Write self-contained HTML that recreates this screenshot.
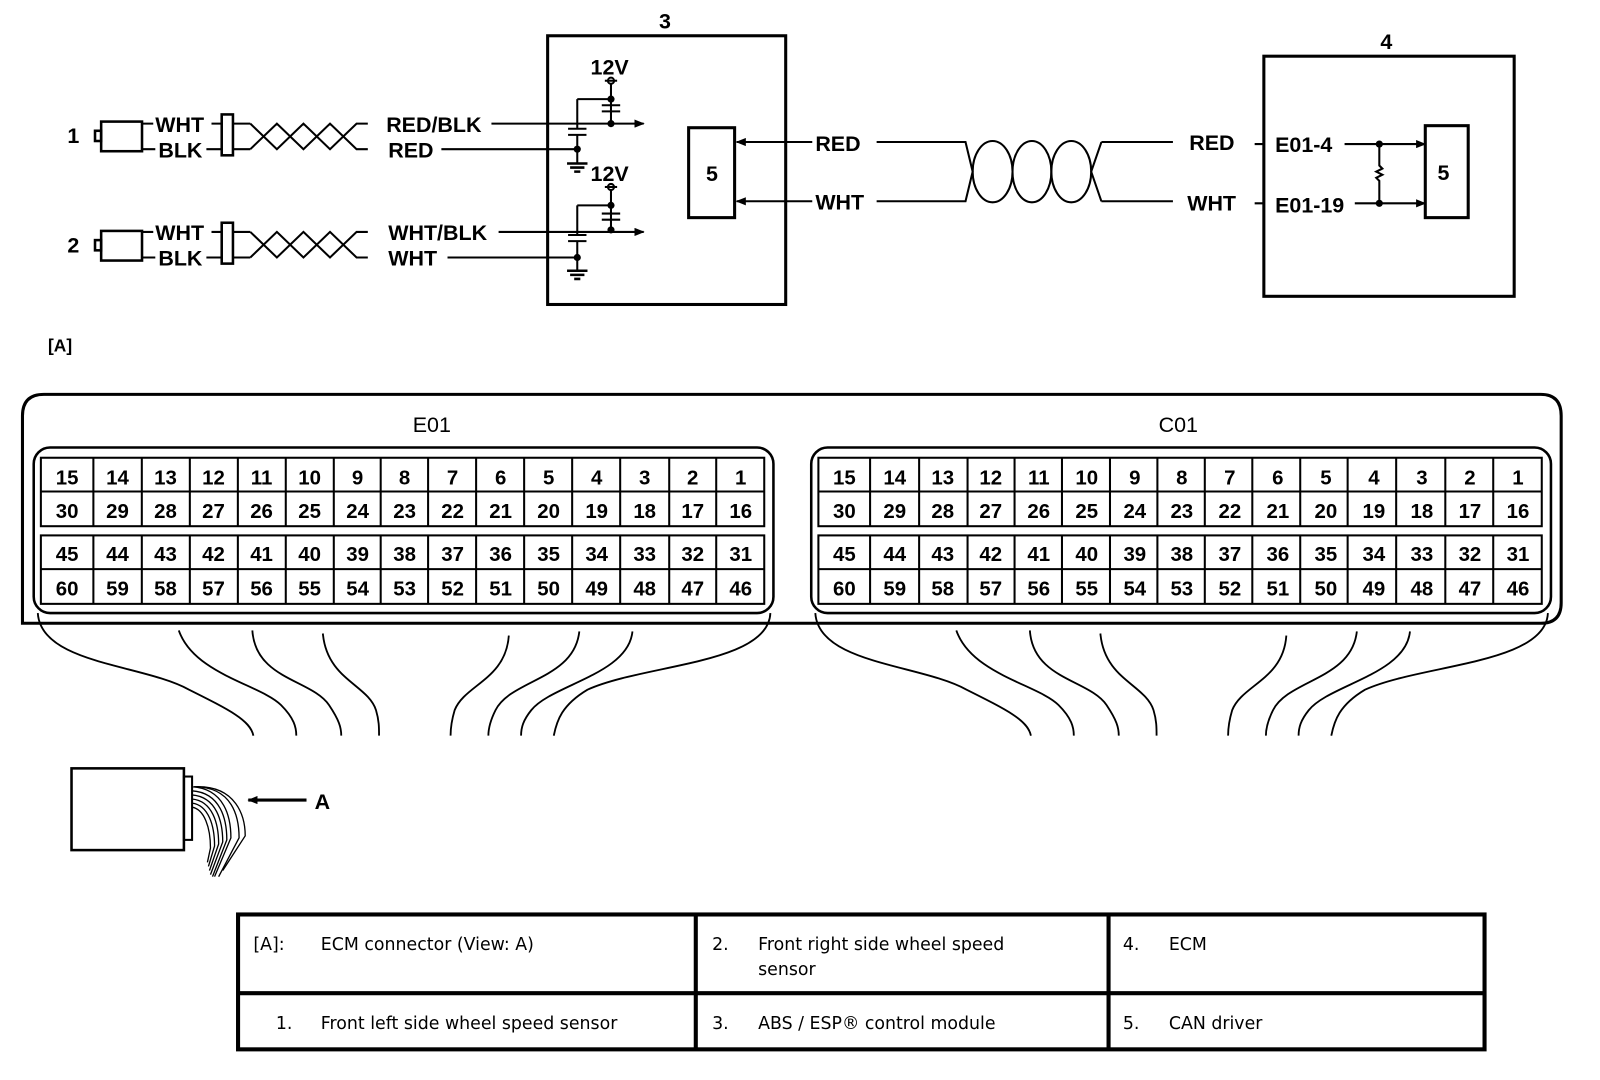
<!DOCTYPE html>
<html><head><meta charset="utf-8"><style>
html,body{margin:0;padding:0;background:#fff;}
svg{display:block;}
.d{font-family:"Liberation Sans",sans-serif;font-weight:bold;fill:#000;}
.t{font-family:"DejaVu Sans","Liberation Sans",sans-serif;font-size:17px;fill:#000;}
.n{font-family:"Liberation Sans",sans-serif;font-size:20px;font-weight:bold;text-anchor:middle;fill:#000;}
</style></head><body>
<svg width="1600" height="1080" viewBox="0 0 1566 1057" preserveAspectRatio="none" xmlns="http://www.w3.org/2000/svg">
<defs><marker id="ar" markerWidth="10" markerHeight="8" refX="9" refY="4" orient="auto" markerUnits="userSpaceOnUse"><path d="M0,0 L10,4 L0,8Z" fill="#000"/></marker></defs>
<g stroke="#000" fill="none" stroke-width="2">
<rect x="93" y="128" width="6" height="10" stroke-width="2.5"/>
<rect x="99" y="119" width="40" height="29" stroke-width="2.5"/>
<rect x="99" y="226" width="40" height="29" stroke-width="2.5"/>
<rect x="93" y="235" width="6" height="10" stroke-width="2.5"/>
<path d="M139,121H150 M139,146H152 M207,121H217 M202,146H217 M228,121H245 M228,146H245"/>
<path d="M139,227H150 M139,252H152 M207,227H217 M202,252H217 M228,227H245 M228,252H245"/>
<rect x="217" y="112" width="11" height="40" stroke-width="2.5"/>
<rect x="217" y="218" width="11" height="40" stroke-width="2.5"/>
<path d="M245,121 L271,146 L297,121 L323,146 L349,121 H360 M245,146 L271,121 L297,146 L323,121 L349,146 H360"/>
<path d="M245,227 L271,252 L297,227 L323,252 L349,227 H360 M245,252 L271,227 L297,252 L323,227 L349,252 H360"/>
<path d="M481,121 H630" marker-end="url(#ar)"/>
<path d="M432,146 H565"/>
<path d="M488,227 H630" marker-end="url(#ar)"/>
<path d="M438,252 H565"/>
<rect x="536" y="35" width="233" height="263" stroke-width="3"/>
<path d="M598,82 V121 M565,97 H598 M565,97 V126 M565,132 V160 M589,103 H607 M589,109 H607 M556,126 H574 M556,132 H574"/>
<path d="M555,160 H575 M558,164 H572 M562,168 H568" stroke-width="2.5"/>
<circle cx="598" cy="79" r="3" fill="#fff"/>
<path d="M592,79 H604"/>
<path d="M598,186 V225 M565,201 H598 M565,201 V230 M565,236 V265 M589,209 H607 M589,215 H607 M556,230 H574 M556,236 H574"/>
<path d="M555,265 H575 M558,269 H572 M562,273 H568" stroke-width="2.5"/>
<circle cx="598" cy="183" r="3" fill="#fff"/>
<path d="M592,183 H604"/>
<rect x="674" y="125" width="45" height="88" stroke-width="3"/>
<path d="M795,139 H721" marker-end="url(#ar)"/>
<path d="M795,197 H721" marker-end="url(#ar)"/>
<path d="M858,139 H945 L952,168 L945,197 H858 M1078,139 L1068,168 L1078,197 M1078,139 H1148 M1078,197 H1148"/>
<ellipse cx="971.5" cy="168" rx="19.5" ry="30"/>
<ellipse cx="1010" cy="168" rx="19" ry="30"/>
<ellipse cx="1048.5" cy="168" rx="19.5" ry="30"/>
<path d="M1228,141 H1238 M1228,199 H1238"/>
<rect x="1237" y="55" width="245" height="235" stroke-width="3"/>
<path d="M1316,141 H1395" marker-end="url(#ar)"/>
<path d="M1326,199 H1395" marker-end="url(#ar)"/>
<path d="M1350,141 V162 L1353,165 L1347,168 L1353,171 L1347,174 L1350,177 V199"/>
<rect x="1395" y="123" width="42" height="90" stroke-width="3"/>
</g>
<g fill="#000">
<circle cx="598" cy="97" r="3.5"/><circle cx="598" cy="121" r="3.5"/><circle cx="565" cy="146" r="3.5"/>
<circle cx="598" cy="201" r="3.5"/><circle cx="598" cy="225" r="3.5"/><circle cx="565" cy="252" r="3.5"/>
<circle cx="1350" cy="141" r="3.5"/><circle cx="1350" cy="199" r="3.5"/>
</g>
<g class="d" font-size="21">
<text x="66" y="140">1</text><text x="66" y="247">2</text>
<text x="152" y="129">WHT</text><text x="155" y="154">BLK</text>
<text x="152" y="235">WHT</text><text x="155" y="260">BLK</text>
<text x="378" y="129">RED/BLK</text><text x="380" y="154">RED</text>
<text x="380" y="235">WHT/BLK</text><text x="380" y="260">WHT</text>
<text x="578" y="73">12V</text><text x="578" y="177">12V</text>
<text x="645" y="28">3</text><text x="691" y="177">5</text>
<text x="798" y="148">RED</text><text x="798" y="205">WHT</text>
<text x="1164" y="147">RED</text><text x="1162" y="206">WHT</text>
<text x="1351" y="48">4</text>
<text x="1248" y="149">E01-4</text><text x="1248" y="208">E01-19</text>
<text x="1407" y="176">5</text>
<text x="47" y="344" font-size="17">[A]</text>
<text x="308" y="792">A</text>
<text x="404" y="423" font-weight="normal">E01</text>
<text x="1134" y="423" font-weight="normal">C01</text>
</g>
<g stroke="#000" fill="none">
<path d="M22,610 V407 Q22,386 43,386 H1508 Q1528,386 1528,407 V590 Q1528,610 1508,610 Z" stroke-width="3"/>
<rect x="33" y="438" width="724" height="162" rx="16" stroke-width="2.5"/>
<rect x="794" y="438" width="724" height="162" rx="16" stroke-width="2.5"/>
<g stroke-width="2">
<rect x="40" y="448" width="708" height="67"/><path d="M40,481H748"/>
<rect x="40" y="524" width="708" height="67"/><path d="M40,557H748"/>
<path d="M91.4,448V515 M138.8,448V515 M185.8,448V515 M232.8,448V515 M279.7,448V515 M326.7,448V515 M372.6,448V515 M419,448V515 M466,448V515 M513,448V515 M560,448V515 M607,448V515 M655,448V515 M701,448V515"/>
<path d="M91.4,524V591 M138.8,524V591 M185.8,524V591 M232.8,524V591 M279.7,524V591 M326.7,524V591 M372.6,524V591 M419,524V591 M466,524V591 M513,524V591 M560,524V591 M607,524V591 M655,524V591 M701,524V591"/>
<rect x="801" y="448" width="708" height="67"/><path d="M801,481H1509"/>
<rect x="801" y="524" width="708" height="67"/><path d="M801,557H1509"/>
<path d="M851.6,448V515 M899.6,448V515 M947,448V515 M993,448V515 M1039.4,448V515 M1086.4,448V515 M1132.8,448V515 M1179.2,448V515 M1225.7,448V515 M1272.6,448V515 M1319,448V515 M1366.5,448V515 M1414.6,448V515 M1461.5,448V515"/>
<path d="M851.6,524V591 M899.6,524V591 M947,524V591 M993,524V591 M1039.4,524V591 M1086.4,524V591 M1132.8,524V591 M1179.2,524V591 M1225.7,524V591 M1272.6,524V591 M1319,524V591 M1366.5,524V591 M1414.6,524V591 M1461.5,524V591"/>
</g>
<g stroke-width="1.8">
<path d="M37,600 C40,650 140,650 185,675 C225,695 245,705 248,720"/>
<path d="M175,617 C190,660 255,670 275,690 C288,703 290,712 290,720"/>
<path d="M247,617 C250,665 305,665 322,690 C332,705 334,712 334,720"/>
<path d="M316,620 C320,665 360,670 368,695 C371,705 371,712 371,720"/>
<path d="M498,622 C495,665 455,670 445,695 C442,705 441,712 441,720"/>
<path d="M567,618 C562,665 500,665 485,695 C480,705 478,712 478,720"/>
<path d="M619,618 C615,660 540,670 520,695 C512,705 510,712 510,720"/>
<path d="M754,600 C752,650 630,650 575,675 C550,690 545,705 542,720"/>
<path d="M798,600 C801,650 901,650 946,675 C986,695 1006,705 1009,720"/>
<path d="M936,617 C951,660 1016,670 1036,690 C1049,703 1051,712 1051,720"/>
<path d="M1008,617 C1011,665 1066,665 1083,690 C1093,705 1095,712 1095,720"/>
<path d="M1077,620 C1081,665 1121,670 1129,695 C1132,705 1132,712 1132,720"/>
<path d="M1259,622 C1256,665 1216,670 1206,695 C1203,705 1202,712 1202,720"/>
<path d="M1328,618 C1323,665 1261,665 1246,695 C1241,705 1239,712 1239,720"/>
<path d="M1380,618 C1376,660 1301,670 1281,695 C1273,705 1271,712 1271,720"/>
<path d="M1515,600 C1513,650 1391,650 1336,675 C1311,690 1306,705 1303,720"/>
</g>
<rect x="70" y="752" width="110" height="80" stroke-width="2.5"/>
<rect x="180" y="760" width="8" height="62" stroke-width="2"/>
<g stroke-width="1.3">
<path d="M188,770 C220,772 226,800 226,820 L210,858"/>
<path d="M188,774 C216,776 222,802 222,822 L208,858"/>
<path d="M188,778 C212,780 218,804 218,824 L206,856"/>
<path d="M188,782 C208,784 214,806 214,826 L205,852"/>
<path d="M188,786 C204,788 210,808 210,828 L204,848"/>
<path d="M188,790 C200,792 206,810 206,830 L203,844"/>
<path d="M190,770 C228,770 234,800 234,820 L214,858"/>
<path d="M190,770 C232,768 240,800 240,818 L218,852"/>
</g>
<path d="M300,783 H243" stroke-width="3" marker-end="url(#ar)"/>
<rect x="233" y="895" width="1220" height="132" stroke-width="4"/>
<path d="M233,972 H1453 M681,895 V1027 M1085,895 V1027" stroke-width="4"/>
</g>
<g class="n">
<text x="65.7" y="474">15</text><text x="115" y="474">14</text><text x="162" y="474">13</text><text x="209" y="474">12</text><text x="256" y="474">11</text><text x="303" y="474">10</text><text x="350" y="474">9</text><text x="396" y="474">8</text><text x="443" y="474">7</text><text x="490" y="474">6</text><text x="537" y="474">5</text><text x="584" y="474">4</text><text x="631" y="474">3</text><text x="678" y="474">2</text><text x="725" y="474">1</text>
<text x="65.7" y="507">30</text><text x="115" y="507">29</text><text x="162" y="507">28</text><text x="209" y="507">27</text><text x="256" y="507">26</text><text x="303" y="507">25</text><text x="350" y="507">24</text><text x="396" y="507">23</text><text x="443" y="507">22</text><text x="490" y="507">21</text><text x="537" y="507">20</text><text x="584" y="507">19</text><text x="631" y="507">18</text><text x="678" y="507">17</text><text x="725" y="507">16</text>
<text x="65.7" y="549">45</text><text x="115" y="549">44</text><text x="162" y="549">43</text><text x="209" y="549">42</text><text x="256" y="549">41</text><text x="303" y="549">40</text><text x="350" y="549">39</text><text x="396" y="549">38</text><text x="443" y="549">37</text><text x="490" y="549">36</text><text x="537" y="549">35</text><text x="584" y="549">34</text><text x="631" y="549">33</text><text x="678" y="549">32</text><text x="725" y="549">31</text>
<text x="65.7" y="583">60</text><text x="115" y="583">59</text><text x="162" y="583">58</text><text x="209" y="583">57</text><text x="256" y="583">56</text><text x="303" y="583">55</text><text x="350" y="583">54</text><text x="396" y="583">53</text><text x="443" y="583">52</text><text x="490" y="583">51</text><text x="537" y="583">50</text><text x="584" y="583">49</text><text x="631" y="583">48</text><text x="678" y="583">47</text><text x="725" y="583">46</text>
<text x="826.4" y="474">15</text><text x="875.7" y="474">14</text><text x="922.7" y="474">13</text><text x="969.7" y="474">12</text><text x="1016.7" y="474">11</text><text x="1063.7" y="474">10</text><text x="1110.7" y="474">9</text><text x="1156.7" y="474">8</text><text x="1203.7" y="474">7</text><text x="1250.7" y="474">6</text><text x="1297.7" y="474">5</text><text x="1344.7" y="474">4</text><text x="1391.7" y="474">3</text><text x="1438.7" y="474">2</text><text x="1485.7" y="474">1</text>
<text x="826.4" y="507">30</text><text x="875.7" y="507">29</text><text x="922.7" y="507">28</text><text x="969.7" y="507">27</text><text x="1016.7" y="507">26</text><text x="1063.7" y="507">25</text><text x="1110.7" y="507">24</text><text x="1156.7" y="507">23</text><text x="1203.7" y="507">22</text><text x="1250.7" y="507">21</text><text x="1297.7" y="507">20</text><text x="1344.7" y="507">19</text><text x="1391.7" y="507">18</text><text x="1438.7" y="507">17</text><text x="1485.7" y="507">16</text>
<text x="826.4" y="549">45</text><text x="875.7" y="549">44</text><text x="922.7" y="549">43</text><text x="969.7" y="549">42</text><text x="1016.7" y="549">41</text><text x="1063.7" y="549">40</text><text x="1110.7" y="549">39</text><text x="1156.7" y="549">38</text><text x="1203.7" y="549">37</text><text x="1250.7" y="549">36</text><text x="1297.7" y="549">35</text><text x="1344.7" y="549">34</text><text x="1391.7" y="549">33</text><text x="1438.7" y="549">32</text><text x="1485.7" y="549">31</text>
<text x="826.4" y="583">60</text><text x="875.7" y="583">59</text><text x="922.7" y="583">58</text><text x="969.7" y="583">57</text><text x="1016.7" y="583">56</text><text x="1063.7" y="583">55</text><text x="1110.7" y="583">54</text><text x="1156.7" y="583">53</text><text x="1203.7" y="583">52</text><text x="1250.7" y="583">51</text><text x="1297.7" y="583">50</text><text x="1344.7" y="583">49</text><text x="1391.7" y="583">48</text><text x="1438.7" y="583">47</text><text x="1485.7" y="583">46</text>
</g>
<g class="t">
<text x="248" y="930">[A]:</text><text x="314" y="930">ECM connector (View: A)</text>
<text x="697" y="930">2.</text><text x="742" y="930">Front right side wheel speed</text><text x="742" y="954">sensor</text>
<text x="1099" y="930">4.</text><text x="1144" y="930">ECM</text>
<text x="270" y="1007">1.</text><text x="314" y="1007">Front left side wheel speed sensor</text>
<text x="697" y="1007">3.</text><text x="742" y="1007">ABS / ESP® control module</text>
<text x="1099" y="1007">5.</text><text x="1144" y="1007">CAN driver</text>
</g>
</svg>
</body></html>
